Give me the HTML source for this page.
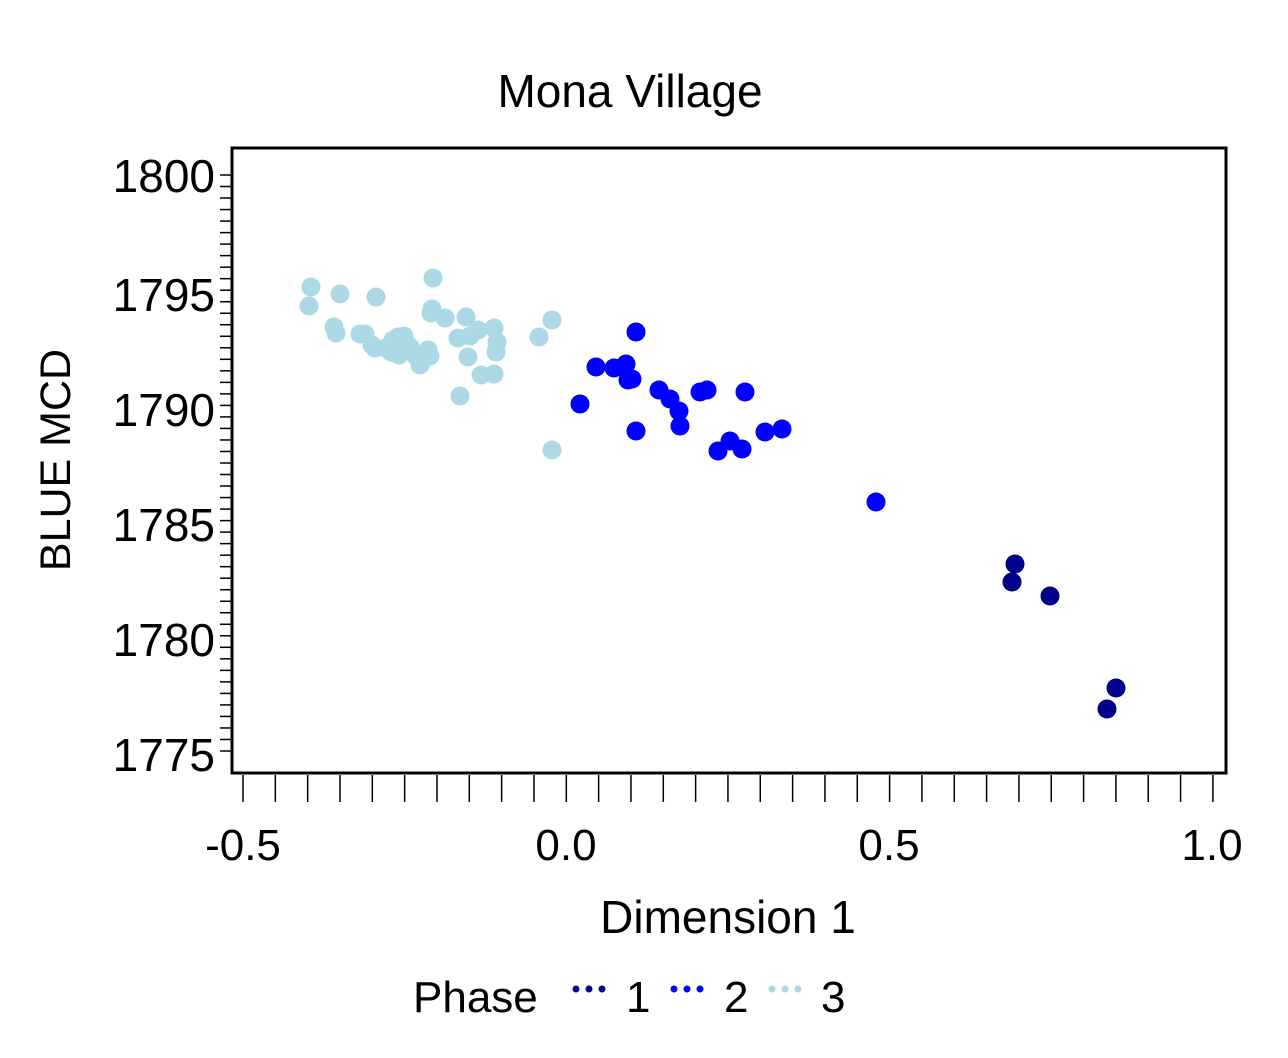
<!DOCTYPE html><html><head><style>body{margin:0;background:#fff}svg text{font-family:"Liberation Sans",sans-serif;fill:#000}</style></head><body>
<svg width="1288" height="1053" xmlns="http://www.w3.org/2000/svg">
<rect width="1288" height="1053" fill="#fff"/>
<text x="630" y="107" font-size="46" text-anchor="middle">Mona Village</text>
<rect x="232" y="148" width="994" height="625" fill="none" stroke="#000" stroke-width="3"/>
<g stroke="#000" stroke-width="1.5" id="yt"></g>
<g stroke="#000" stroke-width="1.5" id="xt"></g>
<g font-size="46" text-anchor="end">
<text x="215" y="192">1800</text><text x="215" y="311">1795</text><text x="215" y="426">1790</text><text x="215" y="541">1785</text><text x="215" y="656">1780</text><text x="215" y="771">1775</text></g>
<g font-size="44" text-anchor="middle">
<text x="243" y="860">-0.5</text><text x="566" y="860">0.0</text><text x="889" y="860">0.5</text><text x="1212" y="860">1.0</text></g>
<text x="728" y="933" font-size="46" text-anchor="middle">Dimension 1</text>
<text transform="translate(70,460) rotate(-90)" font-size="43" text-anchor="middle">BLUE MCD</text>
<g font-size="44"><text x="413" y="1012">Phase</text><text x="626" y="1012">1</text><text x="724" y="1012">2</text><text x="821" y="1012">3</text></g>
<g fill="#00008b"><circle cx="576" cy="989" r="3.5"/><circle cx="589" cy="989" r="3.5"/><circle cx="602" cy="989" r="3.5"/></g>
<g fill="#0000ff"><circle cx="674" cy="989" r="3.5"/><circle cx="687" cy="989" r="3.5"/><circle cx="700" cy="989" r="3.5"/></g>
<g fill="#add8e6"><circle cx="772" cy="989" r="3.5"/><circle cx="785" cy="989" r="3.5"/><circle cx="798" cy="989" r="3.5"/></g>
<g id="pts"></g>
<script>
var ns="http://www.w3.org/2000/svg",yt=document.getElementById("yt"),xt=document.getElementById("xt");
for(var i=0;i<=50;i++){var y=175+i*11.52;var l=document.createElementNS(ns,"line");l.setAttribute("x1",220);l.setAttribute("x2",231);l.setAttribute("y1",y);l.setAttribute("y2",y);yt.appendChild(l);}
for(var i=0;i<=30;i++){var x=243+i*32.33;var l=document.createElementNS(ns,"line");l.setAttribute("x1",x);l.setAttribute("x2",x);l.setAttribute("y1",775);l.setAttribute("y2",802);xt.appendChild(l);}
var P=[["#add8e6",[[311,287],[309,306],[340,294],[376,297],[433,278],[432,309],[431,313],[445,318],[466,317],[334,327],[336,333],[360,334],[365,334],[372,345],[375,348],[393,340],[398,337],[404,336],[391,352],[399,355],[410,347],[420,365],[428,350],[430,356],[458,338],[470,336],[478,330],[494,328],[497,342],[496,352],[468,357],[481,375],[494,374],[460,396],[539,337],[552,320],[552,450],[405,345],[415,355],[386,348]]],
["#0000ff",[[580,404],[596,367],[614,368],[626,364],[628,380],[632,379],[636,332],[636,431],[659,390],[670,399],[679,411],[680,426],[700,392],[707,390],[718,451],[730,441],[742,449],[745,392],[765,432],[782,429],[876,502]]],
["#00008b",[[1015,564],[1012,582],[1050,596],[1116,688],[1107,709]]]];
var g=document.getElementById("pts");
P.forEach(function(s){s[1].forEach(function(p){var c=document.createElementNS(ns,"circle");c.setAttribute("cx",p[0]);c.setAttribute("cy",p[1]);c.setAttribute("r",9.5);c.setAttribute("fill",s[0]);g.appendChild(c);});});
</script>
</svg></body></html>
